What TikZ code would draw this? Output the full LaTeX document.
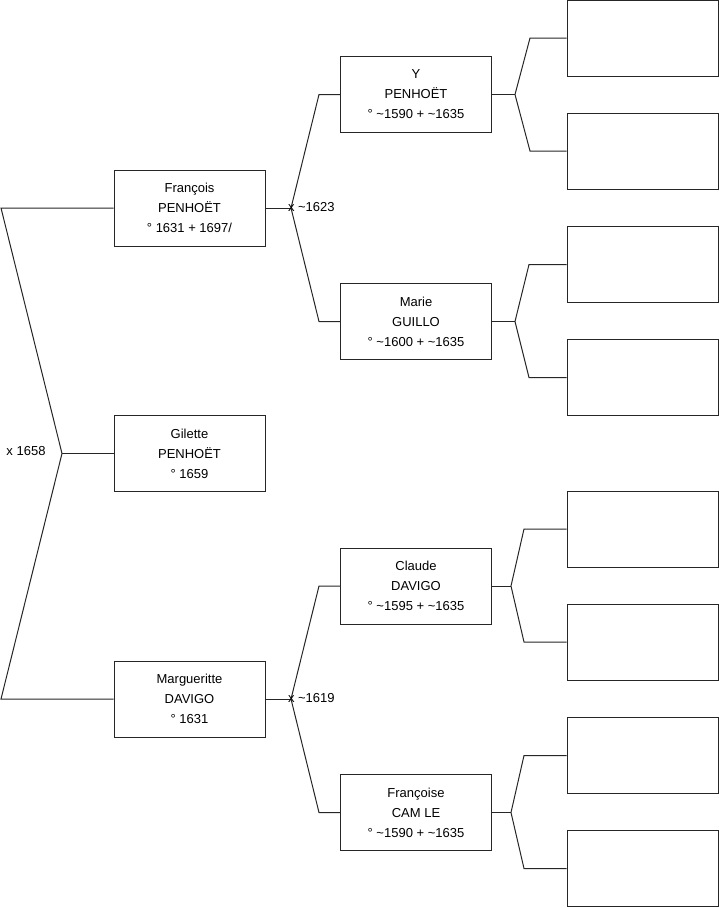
\documentclass[tikz,border=0pt]{standalone}
\usepackage{fontspec}
\setmainfont{Liberation Sans}
\usepackage{tikz}
\usetikzlibrary{positioning}

\begin{document}
\begin{tikzpicture}[
    x=1pt, y=-1pt,
    line width=1pt,
    person/.style={
        rectangle,
        minimum width=151pt,
        minimum height=76pt,
        align=center,
        draw=black!85,
        fill=white,
        inner sep=0pt,
        font=\fontsize{13}{20}\selectfont
    },
    unknown/.style={
        person
    },
    link/.style={
        draw=black!85,
        line join=miter
    },
    wedding/.style={
        inner sep=0pt,
        font=\fontsize{13}{14}\selectfont
    }
]
\useasboundingbox (0,0) rectangle (719,908);
% FIRST GENERATION
\node (gilette) [person] at (189.5,453.5) {Gilette\\PENHOËT\\° 1659};
\node (francois) [person] at (189.5,208) {François\\PENHOËT\\° 1631 + 1697/};
\node (margueritte) [person] at (189.5,699) {Margueritte\\DAVIGO\\° 1631};
% SECOND GENERATION
\node (ypenhoet) [person] at (416,94.5) {Y\\PENHOËT\\° \textasciitilde1590 + \textasciitilde1635};
\node (marie) [person] at (416,321.5) {Marie\\GUILLO\\° \textasciitilde1600 + \textasciitilde1635};
\node (claude) [person] at (416,586) {Claude\\DAVIGO\\° \textasciitilde1595 + \textasciitilde1635};
\node (francoise) [person] at (416,812.5) {Françoise\\CAM LE\\° \textasciitilde1590 + \textasciitilde1635};
% THIRD GENERATION (EMPTY)
\node (e1) [unknown] at (642.5,38) {};
\node (e2) [unknown, below=36pt of e1] {};
\node (e3) [unknown] at (642.5,264.5) {};
\node (e4) [unknown, below=36pt of e3] {};
\node (e5) [unknown] at (642.5,529) {};
\node (e6) [unknown, below=36pt of e5] {};
\node (e7) [unknown] at (642.5,755.5) {};
\node (e8) [unknown, below=36pt of e7] {};
% BEND POINTS
\coordinate (m0) at (62,453.5);
\coordinate (m0a) at (1,208);
\coordinate (m0b) at (1,699);
\coordinate (m1) at (291,208);
\coordinate (m1a) at (319,94.5);
\coordinate (m1b) at (319,321.5);
\coordinate (m2) at (291,699);
\coordinate (m2a) at (319,586);
\coordinate (m2b) at (319,812.5);
\coordinate (j1) at (515,94.5);
\coordinate (j1a) at (530,38);
\coordinate (j1b) at (j1a |- e2.west);
\coordinate (j2) at (515,321.5);
\coordinate (j2a) at (529,264.5);
\coordinate (j2b) at (j2a |- e4.west);
\coordinate (j3) at (511,586);
\coordinate (j3a) at (524,529);
\coordinate (j3b) at (j3a |- e6.west);
\coordinate (j4) at (511,812.5);
\coordinate (j4a) at (524,755.5);
\coordinate (j4b) at (j4a |- e8.west);
% PARENTS OF GILETTE
\draw [link] (francois.west) -- (m0a) -- (m0) -- (m0b) -- (margueritte.west);
\draw [link] (m0) -- (gilette.west);
\node (w0) [wedding, anchor=east] at (46,451) {x 1658};
% PARENTS OF FRANCOIS
\draw [link] (ypenhoet.west) -- (m1a) -- (m1) -- (m1b) -- (marie.west);
\draw [link] (francois.east) -- (m1);
\node (w1) [wedding, anchor=west] at (287.5,207) {x \textasciitilde1623};
% PARENTS OF MARGUERITTE
\draw [link] (claude.west) -- (m2a) -- (m2) -- (m2b) -- (francoise.west);
\draw [link] (margueritte.east) -- (m2);
\node (w2) [wedding, anchor=west] at (287.5,698) {x \textasciitilde1619};
% THIRD GENERATION LINKS
\draw [link] (e1.west) -- (j1a) -- (j1) -- (j1b) -- (e2.west);
\draw [link] (ypenhoet.east) -- (j1);
\draw [link] (e3.west) -- (j2a) -- (j2) -- (j2b) -- (e4.west);
\draw [link] (marie.east) -- (j2);
\draw [link] (e5.west) -- (j3a) -- (j3) -- (j3b) -- (e6.west);
\draw [link] (claude.east) -- (j3);
\draw [link] (e7.west) -- (j4a) -- (j4) -- (j4b) -- (e8.west);
\draw [link] (francoise.east) -- (j4);
\end{tikzpicture}
\end{document}
